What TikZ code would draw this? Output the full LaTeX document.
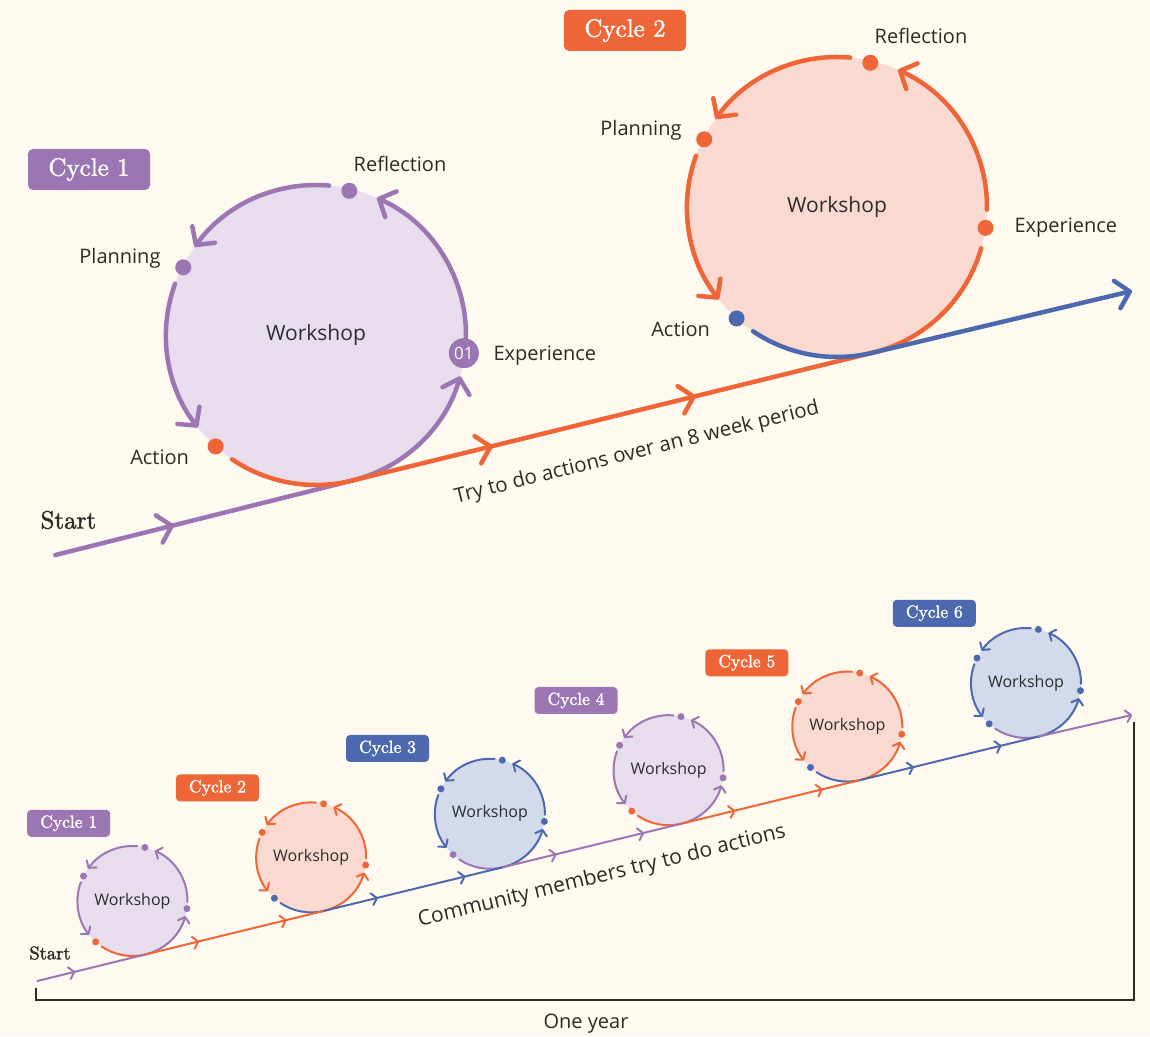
\documentclass[tikz,border=0pt]{standalone}
\usepackage{fontspec}
\setsansfont{Open Sans}
\newfontfamily\tagfont[FakeBold=1.6]{lmroman10-regular.otf}
\usetikzlibrary{arrows.meta, calc, decorations.markings}

\definecolor{paper}{HTML}{FFFAF0}
\definecolor{ink}{HTML}{2B2B2B}
\definecolor{cpurple}{HTML}{9B76B3}
\definecolor{corange}{HTML}{EE6637}
\definecolor{cblue}{HTML}{4C69AF}
\definecolor{fpurple}{HTML}{E7DDEC}
\definecolor{forange}{HTML}{FADAD0}
\definecolor{fblue}{HTML}{D3DAEB}

\begin{document}
\begin{tikzpicture}[x=1pt, y=1pt,
  bigline/.style={line width=4.5pt, line cap=round},
  smallline/.style={line width=2pt, line cap=round},
  bigtip/.style={-{Straight Barb[length=13pt,width=28pt,round]}},
  smalltip/.style={-{Straight Barb[length=5pt,width=12pt,round]}},
  bigmark/.style={postaction={decorate, decoration={markings,
      mark=at position #1 with {\arrow{Straight Barb[length=13pt,width=28pt,round]}}}}},
  smallmark/.style={postaction={decorate, decoration={markings,
      mark=at position #1 with {\arrow{Straight Barb[length=5pt,width=12pt,round]}}}}},
  bigwheel/.style={circle, minimum size=300pt, inner sep=0pt, text=ink,
      font=\sffamily\fontsize{21}{25}\selectfont},
  smallwheel/.style={circle, minimum size=110pt, inner sep=0pt, text=ink,
      font=\sffamily\fontsize{16}{19}\selectfont},
  bigdot/.style={circle, minimum size=16pt, inner sep=0pt},
  smalldot/.style={circle, minimum size=7pt, inner sep=0pt},
  biglabel/.style={text=ink, font=\sffamily\fontsize{20}{24}\selectfont},
  bigtag/.style={rounded corners=5pt, minimum width=122pt, minimum height=41pt,
      text=white, font=\tagfont\fontsize{25}{30}\selectfont},
  smalltag/.style={rounded corners=4pt, minimum width=83pt, minimum height=27pt,
      text=white, font=\tagfont\fontsize{17.5}{21}\selectfont},
]
\fill[paper] (0,0) rectangle (1150,1036);
\useasboundingbox (0,0) rectangle (1150,1036);

% top: two big cycles
\node[bigwheel, fill=fpurple] (w1) at (316,701) {Workshop};
\node[bigwheel, fill=forange] (w2) at (837,829) {Workshop};
\coordinate (s1) at (55.4,481);
\coordinate (t1) at ($(w1.center)+(-76.1:150)$);
\coordinate (t2) at ($(w2.center)+(-76.1:150)$);
\coordinate (e2) at (1132,745);

\draw[bigline, color=cpurple, bigtip] ($(w1.center)+(-1:150)$) arc[start angle=-1, end angle=66, radius=150];
\draw[bigline, color=cpurple, bigtip] ($(w1.center)+(85:150)$) arc[start angle=85, end angle=144, radius=150];
\draw[bigline, color=cpurple, bigtip] ($(w1.center)+(160:150)$) arc[start angle=160, end angle=218, radius=150];
\draw[bigline, color=cpurple, bigtip] (t1) arc[start angle=-76.1, end angle=-16, radius=150];
\draw[bigline, color=cpurple, bigmark=0.4] (s1) -- (t1);
\draw[bigline, color=corange] ($(w1.center)+(236:150)$) arc[start angle=236, end angle=283.9, radius=150];

\draw[bigline, color=corange, bigtip] ($(w2.center)+(-1:150)$) arc[start angle=-1, end angle=66, radius=150];
\draw[bigline, color=corange, bigtip] ($(w2.center)+(85:150)$) arc[start angle=85, end angle=144, radius=150];
\draw[bigline, color=corange, bigtip] ($(w2.center)+(160:150)$) arc[start angle=160, end angle=218, radius=150];
\draw[bigline, color=corange] (t2) arc[start angle=-76.1, end angle=-16, radius=150];
\draw[bigline, color=corange, bigmark=0.27, bigmark=0.66] (t1) -- (t2);
\draw[bigline, color=cblue] ($(w2.center)+(236:150)$) arc[start angle=236, end angle=283.9, radius=150];
\draw[bigline, color=cblue, bigtip] (t2) -- (e2);

\node[bigdot, fill=cpurple] (refl1) at ($(w1.center)+(77:148)$) {};
\node[bigdot, fill=cpurple] (plan1) at ($(w1.center)+(153:149)$) {};
\node[bigdot, fill=corange] (act1) at ($(w1.center)+(228:150)$) {};
\node[circle, fill=cpurple, minimum size=30pt, inner sep=0pt, text=white,
  font=\sffamily\fontsize{17}{20}\selectfont] (exp1) at ($(w1.center)+(-7:149)$) {01};
\node[bigdot, fill=corange] (refl2) at ($(w2.center)+(77:148)$) {};
\node[bigdot, fill=corange] (plan2) at ($(w2.center)+(153:149)$) {};
\node[bigdot, fill=corange] (exp2) at ($(w2.center)+(-8:150)$) {};
\node[bigdot, fill=cblue] (act2) at ($(w2.center)+(228:150)$) {};

\foreach \w in {1,2}{
  \node[biglabel] (reflabel\w) at ($(w\w.center)+(84,171)$) {Reflection};
  \node[biglabel, anchor=east] (planlabel\w) at ($(w\w.center)+(-152,77)$) {Planning};
  \node[biglabel, anchor=west] (explabel\w) at ($(w\w.center)+(174,-21)$) {Experience};
  \node[biglabel, anchor=east] (actlabel\w) at ($(w\w.center)+(-123.5,-122)$) {Action};
}

\node[bigtag, fill=cpurple] (tagA) at (89,866.5) {Cycle 1};
\node[bigtag, fill=corange] (tagB) at (625,1005.5) {Cycle 2};
\node[text=ink, font=\tagfont\fontsize{25}{30}\selectfont] (startA) at (68.4,516) {Start};
\node[text=ink, font=\sffamily\fontsize{20.5}{24}\selectfont, rotate=13.9] (noteA) at (637,583) {Try to do actions over an 8 week period};

% bottom: six small cycles over one year
\foreach \i/\main/\pale/\act/\nxt/\bx/\by in {
  1/cpurple/fpurple/corange/corange/68.7/212.7,
  2/corange/forange/cblue/cblue/217.5/248,
  3/cblue/fblue/cpurple/cpurple/387.5/287.5,
  4/cpurple/fpurple/corange/corange/576/335.5,
  5/corange/forange/cblue/cblue/746.8/373.2,
  6/cblue/fblue/cblue/cpurple/934.3/422.7}{
  \node[smallwheel, fill=\pale] (s\i) at ({132.5+178.7*(\i-1)}, {135+43.6*(\i-1)}) {Workshop};
  \coordinate (st\i) at ($(s\i.center)+(-76.3:55)$);
  \draw[smallline, color=\main, smalltip] ($(s\i.center)+(-1:55)$) arc[start angle=-1, end angle=66, radius=55];
  \draw[smallline, color=\main, smalltip] ($(s\i.center)+(85:55)$) arc[start angle=85, end angle=144, radius=55];
  \draw[smallline, color=\main, smalltip] ($(s\i.center)+(160:55)$) arc[start angle=160, end angle=218, radius=55];
  \draw[smallline, color=\main, smalltip] (st\i) arc[start angle=-76.3, end angle=-16, radius=55];
  \draw[smallline, color=\nxt] ($(s\i.center)+(236:55)$) arc[start angle=236, end angle=283.7, radius=55];
  \node[smalldot, fill=\main] (sr\i) at ($(s\i.center)+(77:55)$) {};
  \node[smalldot, fill=\main] (sp\i) at ($(s\i.center)+(153:55)$) {};
  \node[smalldot, fill=\main] (se\i) at ($(s\i.center)+(-8:55)$) {};
  \node[smalldot, fill=\act] (sa\i) at ($(s\i.center)+(228:55)$) {};
  \node[smalltag, fill=\main] (tag\i) at (\bx,\by) {Cycle \i};
}

\coordinate (s0) at (37.3,55);
\coordinate (e0) at (1132,321);
\draw[smallline, color=cpurple, smallmark=0.35] (s0) -- (st1);
\foreach \a/\b/\col in {1/2/corange, 2/3/cblue, 3/4/cpurple, 4/5/corange, 5/6/cblue}
  \draw[smallline, color=\col, smallmark=0.3, smallmark=0.79] (st\a) -- (st\b);
\draw[smallline, color=cpurple, smalltip] (st6) -- (e0);

\node[text=ink, font=\tagfont\fontsize{18.5}{22}\selectfont] (startB) at (50,83) {Start};
\node[text=ink, font=\sffamily\fontsize{21}{25}\selectfont, rotate=13.7] (noteB) at (602,159.3) {Community members try to do actions};

\coordinate (y0) at (36,48);
\coordinate (y1) at (1134,314);
\draw[ink, line width=1.5pt] (y0) |- (y1 |- 0,36) -- (y1);
\node[biglabel] (year) at (586,12) {One year};
\end{tikzpicture}
\end{document}
